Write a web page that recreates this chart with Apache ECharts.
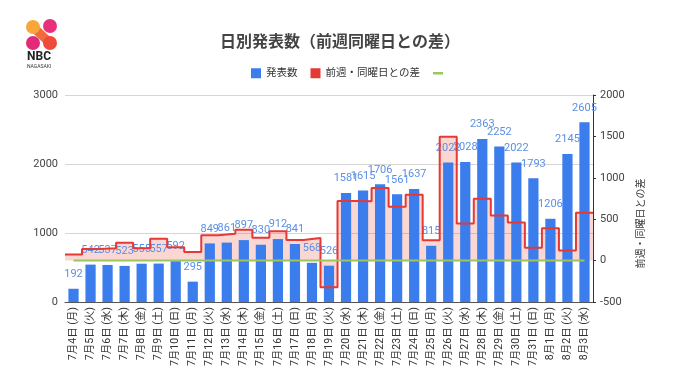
<!DOCTYPE html>
<html>
<head>
<meta charset="utf-8">
<script src="https://cdn.jsdelivr.net/npm/echarts@6/dist/echarts.min.js"></script>
<style>
html,body{margin:0;padding:0;background:#fff;}
#chart{width:680px;height:382px;}
</style>
</head>
<body>
<div id="chart"></div>
<script>
const dates = ['7月4日 (月)','7月5日 (火)','7月6日 (水)','7月7日 (木)','7月8日 (金)','7月9日 (土)','7月10日 (日)',
  '7月11日 (月)','7月12日 (火)','7月13日 (水)','7月14日 (木)','7月15日 (金)','7月16日 (土)','7月17日 (日)',
  '7月18日 (月)','7月19日 (火)','7月20日 (水)','7月21日 (木)','7月22日 (金)','7月23日 (土)','7月24日 (日)',
  '7月25日 (月)','7月26日 (火)','7月27日 (水)','7月28日 (木)','7月29日 (金)','7月30日 (土)','7月31日 (日)',
  '8月1日 (月)','8月2日 (火)','8月3日 (水)'];
const cases = [192,542,537,523,555,557,592,295,849,861,897,830,912,841,568,526,1581,1615,1706,1561,1637,815,
  2022,2028,2363,2252,2022,1793,1206,2145,2605];
const weekDiff = [75,140,150,215,150,265,160,103,307,324,374,275,355,249,273,-323,720,718,876,649,796,247,
  1496,447,748,546,461,156,391,123,577];
const zeroLine = [0,0,0,0,0,0,0,0,0,0,0,0,0,0,0,0,0,0,0,0,0,0,0,0,0,0,0,0,0,0,0];
const leftTicks = {min:0, max:3000, interval:1000};
const rightTicks = {min:-500, max:2000, interval:500};

const nameCases = '発表数';
const nameDiff = '前週・同曜日との差';
const nameZero = ' ';

// step line spans full category widths: one boundary slot per category plus closing edge
const stepSlots = dates.concat(['']);
const stepData = weekDiff.concat([weekDiff[weekDiff.length - 1]]);

const FONT = 'Roboto, "Noto Sans CJK JP", sans-serif';
const plain = v => String(v);
const chart = echarts.init(document.getElementById('chart'));
chart.setOption({
  animation: false,
  textStyle: {fontFamily: FONT},
  title: {
    text: '日別発表数（前週同曜日との差）',
    left: 'center', top: 30,
    textStyle: {fontSize: 16, fontWeight: 'bold', color: '#444', fontFamily: FONT}
  },
  legend: {
    left: 246, top: 63,
    itemWidth: 10, itemHeight: 10, itemGap: 13,
    textStyle: {fontSize: 10.5, color: '#333', fontFamily: FONT},
    data: [
      {name: nameCases, icon: 'rect'},
      {name: nameDiff, icon: 'rect'},
      {name: nameZero, icon: 'path://M0,0L0.01,0L0,0.01Z M0,3.8L10,3.8L10,6.2L0,6.2Z M10,10L9.99,10L10,9.99Z'}
    ]
  },
  grid: {left: 65, right: 87, top: 95, bottom: 80},
  xAxis: [{
    type: 'category',
    data: dates,
    boundaryGap: true,
    axisLine: {lineStyle: {color: '#555', width: 1}},
    axisTick: {show: false},
    axisLabel: {rotate: 90, interval: 0, fontSize: 10.5, color: '#333', margin: 5, fontFamily: FONT}
  }, {
    type: 'category',
    data: stepSlots,
    boundaryGap: false,
    show: false
  }],
  yAxis: [{
    type: 'value',
    min: leftTicks.min, max: leftTicks.max, interval: leftTicks.interval,
    axisLine: {show: false},
    axisTick: {show: false},
    axisLabel: {fontSize: 11, color: '#444', margin: 7, formatter: plain},
    splitLine: {lineStyle: {color: '#d6d6d6'}}
  }, {
    type: 'value',
    position: 'right',
    min: rightTicks.min, max: rightTicks.max, interval: rightTicks.interval,
    axisLine: {show: true, lineStyle: {color: '#333'}},
    axisTick: {show: true, length: 3, lineStyle: {color: '#333'}},
    axisLabel: {fontSize: 11, color: '#444', margin: 7, formatter: plain},
    splitLine: {show: false},
    name: nameDiff,
    nameLocation: 'middle',
    nameRotate: 90,
    nameGap: 43,
    nameMoveOverlap: false,
    nameTextStyle: {fontSize: 10, color: '#333', padding: [0, 50, 0, 0]}
  }],
  series: [
    {
      name: nameDiff + '_area',
      type: 'line',
      xAxisIndex: 1, yAxisIndex: 1,
      data: stepData,
      step: 'end',
      symbol: 'none',
      lineStyle: {opacity: 0},
      areaStyle: {color: 'rgba(234,67,53,0.3)'},
      z: 1,
      silent: true
    },
    {
      name: nameCases,
      type: 'bar',
      data: cases,
      barWidth: '60%',
      itemStyle: {color: '#3b7ded'},
      label: {show: true, position: 'top', distance: 9, color: '#5b8fe6', fontSize: 11, fontFamily: FONT},
      z: 2
    },
    {
      name: nameDiff,
      type: 'line',
      xAxisIndex: 1, yAxisIndex: 1,
      data: stepData,
      step: 'end',
      symbol: 'none',
      itemStyle: {color: '#e53935'},
      lineStyle: {color: '#e53935', width: 2},
      z: 3
    },
    {
      name: nameZero,
      type: 'line',
      yAxisIndex: 1,
      data: zeroLine,
      symbol: 'none',
      itemStyle: {color: '#9cc55e'},
      lineStyle: {color: '#9cc55e', width: 2},
      z: 3
    }
  ],
  graphic: [
    {type: 'group', left: 26, top: 19, children: [
      {type: 'line', shape: {x1: 7, y1: 8, x2: 24, y2: 24}, style: {stroke: '#f26b3a', lineWidth: 9, lineCap: 'round'}},
      {type: 'circle', shape: {cx: 7, cy: 8, r: 7}, style: {fill: '#f9a63a'}},
      {type: 'circle', shape: {cx: 24, cy: 7, r: 7}, style: {fill: '#e8317a'}},
      {type: 'circle', shape: {cx: 7, cy: 24, r: 7}, style: {fill: '#e2297a'}},
      {type: 'circle', shape: {cx: 24, cy: 24, r: 7}, style: {fill: '#ee4b3a'}}
    ]},
    {type: 'text', left: 27, top: 51, style: {text: 'NBC', fontSize: 12, fontWeight: 'bold', fill: '#222', fontFamily: 'Roboto, sans-serif'}},
    {type: 'text', left: 27, top: 64, style: {text: 'NAGASAKI', fontSize: 5, fill: '#333', fontFamily: 'Roboto, sans-serif'}}
  ]
});
</script>
</body>
</html>
